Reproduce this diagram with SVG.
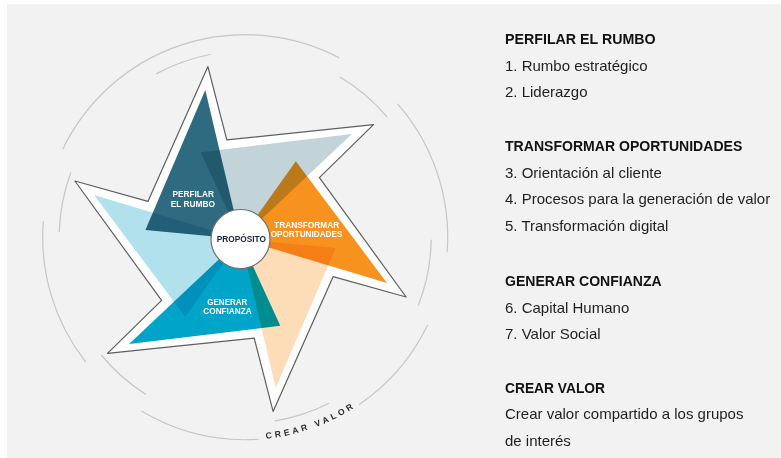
<svg xmlns="http://www.w3.org/2000/svg" xmlns:xlink="http://www.w3.org/1999/xlink" width="781" height="458" viewBox="0 0 781 458">
<style>
.ring{fill:none;stroke:#c6c6c6;stroke-width:1.2;stroke-linecap:round}
.blade{mix-blend-mode:multiply}
.lbl{font-family:"Liberation Sans",Arial,sans-serif;font-weight:bold;font-size:8.6px;fill:#ffffff;text-anchor:middle}
.h{font-family:"Liberation Sans",Arial,sans-serif;font-weight:bold;font-size:14px;fill:#111111}
.t{font-family:"Liberation Sans",Arial,sans-serif;font-size:15px;fill:#1e1e1e}
</style>
<defs>
<path id="crearPath" d="M266,438.6 A202.5,202.5 0 0 0 388.4,380.4"/>
</defs>
<rect x="7" y="4" width="774" height="454" fill="#f2f2f2"/>

<g id="ring">
<path class="ring" d="M63,148.7 A202.5,202.5 0 0 1 338.7,57.6"/>
<path class="ring" d="M397.8,104.1 A202.5,202.5 0 0 1 447.2,251.7"/>
<path class="ring" d="M427.5,325.3 A202.5,202.5 0 0 1 359.6,404.3"/>
<path class="ring" d="M257.9,439.3 A202.5,202.5 0 0 1 141.8,411.3"/>
<path class="ring" d="M85.4,361.6 A202.5,202.5 0 0 1 43.3,221.7"/>
<path class="ring" d="M156.7,73.6 A186,186 0 0 1 210,54.5"/>
<path class="ring" d="M339.9,77.1 A186,186 0 0 1 386.8,116.7"/>
<path class="ring" d="M431.2,240.1 A186,186 0 0 1 418.4,305.1"/>
<path class="ring" d="M328.5,403.5 A186,186 0 0 1 275.3,420.8"/>
<path class="ring" d="M145.5,394.2 A186,186 0 0 1 101.7,355.5"/>
<path class="ring" d="M59.3,231.7 A186,186 0 0 1 70.8,172.7"/>
<text font-family="'Liberation Sans',Arial,sans-serif" font-weight="bold" font-size="8.6" letter-spacing="3.1" fill="#2b2b2b"><textPath xlink:href="#crearPath" href="#crearPath">CREAR VALOR</textPath></text>
</g>

<g id="star">
<polygon points="207.9,66.6 226.8,139.9 373.5,124.6 319.4,177.6 406.1,297 333.2,276.6 273.1,411.4 254.2,338.1 107.5,353.4 161.6,300.4 74.9,181 147.9,201.4" fill="#ffffff" stroke="#5e5e5e" stroke-width="1.2" stroke-linejoin="round"/>
</g>

<g id="blade-gray">
<polygon class="blade" points="240.5,239 351.9,134.1 200.7,152.2" fill="#c2d4da"/>
</g>
<g id="blade-peach">
<polygon class="blade" points="240.5,239 275.7,387.9 335.6,248" fill="#fddcb8"/>
</g>
<g id="blade-lightblue">
<polygon class="blade" points="240.5,239 94,195 185.2,316.8" fill="#b2e1ee"/>
</g>
<g id="perfilar-el-rumbo">
<polygon class="blade" points="240.5,239 205.3,90.1 145.4,230" fill="#2e6b80"/>
<text class="lbl" x="193.2" y="197.3" textLength="41.3" lengthAdjust="spacingAndGlyphs">PERFILAR</text>
<text class="lbl" x="192.8" y="206.8" textLength="44.3" lengthAdjust="spacingAndGlyphs">EL RUMBO</text>
</g>
<g id="transformar-oportunidades">
<polygon class="blade" points="240.5,239 387,283 295.8,161.2" fill="#f7921e"/>
<text class="lbl" x="306.7" y="227.9" textLength="65.3" lengthAdjust="spacingAndGlyphs">TRANSFORMAR</text>
<text class="lbl" x="306.5" y="237.3" textLength="71.7" lengthAdjust="spacingAndGlyphs">OPORTUNIDADES</text>
</g>
<g id="generar-confianza">
<polygon class="blade" points="240.5,239 129.1,343.9 280.3,325.8" fill="#00a4c8"/>
<text class="lbl" x="227.3" y="304.8" textLength="40" lengthAdjust="spacingAndGlyphs">GENERAR</text>
<text class="lbl" x="227.5" y="314.2" textLength="48.3" lengthAdjust="spacingAndGlyphs">CONFIANZA</text>
</g>

<g id="proposito">
<circle cx="240.5" cy="239" r="29.5" fill="#ffffff" stroke="#6e6e6e" stroke-width="1.2"/>
<text class="lbl" x="241.3" y="241.9" style="fill:#16253a" textLength="49.3" lengthAdjust="spacingAndGlyphs">PROPÓSITO</text>
</g>

<g id="legend">
<text class="h" x="505" y="44.3" textLength="150.7" lengthAdjust="spacingAndGlyphs">PERFILAR EL RUMBO</text>
<text class="t" x="505" y="70.7">1. Rumbo estratégico</text>
<text class="t" x="505" y="97.3">2. Liderazgo</text>
<text class="h" x="505" y="151" textLength="237.3" lengthAdjust="spacingAndGlyphs">TRANSFORMAR OPORTUNIDADES</text>
<text class="t" x="505" y="177.7">3. Orientación al cliente</text>
<text class="t" x="505" y="204.3">4. Procesos para la generación de valor</text>
<text class="t" x="505" y="231">5. Transformación digital</text>
<text class="h" x="505" y="286" textLength="156.7" lengthAdjust="spacingAndGlyphs">GENERAR CONFIANZA</text>
<text class="t" x="505" y="312.7">6. Capital Humano</text>
<text class="t" x="505" y="339">7. Valor Social</text>
<text class="h" x="505" y="392.7" textLength="100" lengthAdjust="spacingAndGlyphs">CREAR VALOR</text>
<text class="t" x="505" y="419.3">Crear valor compartido a los grupos</text>
<text class="t" x="505" y="446">de interés</text>
</g>
</svg>
